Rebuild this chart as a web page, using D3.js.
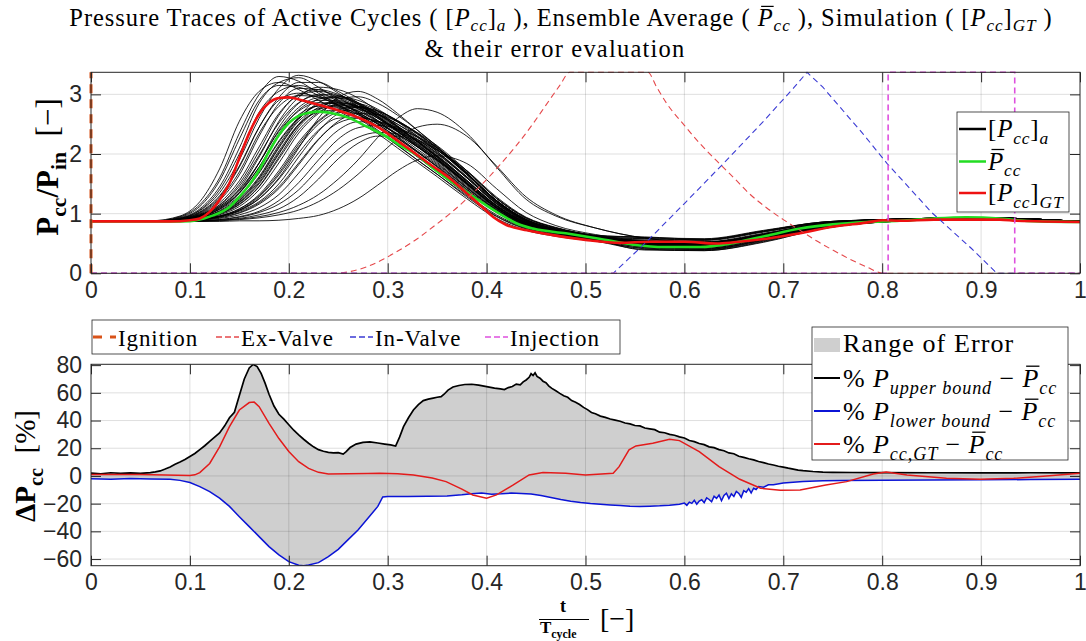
<!DOCTYPE html>
<html><head><meta charset="utf-8">
<script src="https://cdn.jsdelivr.net/npm/d3@7"></script>
<style>body{margin:0;background:#fff}svg{display:block}text{white-space:pre}</style>
</head><body>
<svg id="c" width="1086" height="641"></svg>
<script>
// ---------------- DATA ----------------
const XTICKS = [0,0.1,0.2,0.3,0.4,0.5,0.6,0.7,0.8,0.9,1];
const TOP_YTICKS = [0,1,2,3];
const BOT_YTICKS = [-60,-40,-20,0,20,40,60,80];
const TOP_YLIM = [0,3.37];
const BOT_YLIM = [-64.8,80.6];

// active cycles, sampled on a common t grid
const CYCLE_T = [0,0.06,0.09,0.11,0.13,0.15,0.17,0.19,0.21,0.23,0.25,0.27,0.29,0.31,0.33,0.35,0.38,0.41,0.44,0.47,0.51,0.56,0.62,0.68,0.74,0.80,0.90,1.00];
const CYCLES = [
[0.87,0.87,0.95,1.15,1.6,2.35,3.0,3.3,3.22,3.02,2.82,2.62,2.4,2.15,1.9,1.66,1.28,0.95,0.74,0.63,0.55,0.44,0.42,0.58,0.78,0.87,0.92,0.86],
[0.87,0.87,0.93,1.08,1.45,2.1,2.85,3.2,3.28,3.12,2.9,2.68,2.45,2.2,1.95,1.7,1.32,0.98,0.76,0.65,0.56,0.46,0.44,0.6,0.79,0.87,0.92,0.86],
[0.87,0.88,0.96,1.2,1.75,2.55,3.05,3.2,3.08,2.9,2.72,2.54,2.34,2.1,1.86,1.62,1.25,0.92,0.72,0.62,0.54,0.42,0.4,0.56,0.77,0.86,0.91,0.86],
[0.87,0.87,0.92,1.05,1.35,1.9,2.6,3.1,3.32,3.22,3.02,2.8,2.56,2.3,2.04,1.78,1.38,1.02,0.78,0.66,0.57,0.47,0.45,0.61,0.8,0.88,0.92,0.87],
[0.87,0.87,0.91,1.0,1.22,1.65,2.3,2.85,3.1,3.08,2.94,2.76,2.55,2.32,2.08,1.84,1.44,1.06,0.8,0.68,0.58,0.48,0.46,0.6,0.8,0.88,0.92,0.87],
[0.87,0.87,0.9,0.98,1.15,1.5,2.05,2.65,3.0,3.08,3.0,2.84,2.62,2.38,2.13,1.88,1.46,1.07,0.81,0.68,0.58,0.49,0.46,0.61,0.81,0.88,0.92,0.87],
[0.87,0.87,0.92,1.03,1.3,1.8,2.45,2.9,3.02,2.95,2.82,2.66,2.47,2.26,2.03,1.8,1.41,1.04,0.79,0.67,0.57,0.47,0.45,0.6,0.8,0.88,0.92,0.87],
[0.87,0.87,0.9,0.97,1.12,1.42,1.95,2.55,2.95,3.12,3.08,2.94,2.72,2.47,2.2,1.94,1.5,1.1,0.83,0.7,0.6,0.5,0.48,0.62,0.81,0.89,0.92,0.87],
[0.87,0.87,0.91,1.01,1.25,1.7,2.35,2.8,2.98,2.96,2.86,2.7,2.5,2.28,2.05,1.82,1.43,1.05,0.8,0.68,0.58,0.5,0.48,0.63,0.82,0.89,0.93,0.87],
[0.87,0.87,0.89,0.95,1.08,1.35,1.85,2.45,2.85,3.0,2.98,2.86,2.68,2.46,2.21,1.96,1.54,1.13,0.85,0.71,0.6,0.51,0.49,0.63,0.82,0.89,0.93,0.87],
[0.87,0.87,0.89,0.94,1.04,1.25,1.62,2.15,2.6,2.82,2.86,2.78,2.62,2.42,2.2,1.96,1.55,1.14,0.85,0.71,0.6,0.5,0.47,0.62,0.81,0.89,0.92,0.87],
[0.87,0.87,0.88,0.92,1.0,1.18,1.5,2.0,2.5,2.78,2.86,2.8,2.66,2.47,2.25,2.01,1.6,1.17,0.87,0.72,0.61,0.52,0.5,0.64,0.82,0.89,0.93,0.87],
[0.87,0.87,0.9,0.96,1.1,1.35,1.78,2.3,2.66,2.8,2.78,2.68,2.52,2.33,2.12,1.9,1.5,1.1,0.82,0.69,0.59,0.49,0.46,0.61,0.8,0.88,0.92,0.87],
[0.87,0.87,0.88,0.91,0.98,1.12,1.4,1.85,2.35,2.68,2.84,2.84,2.73,2.55,2.33,2.08,1.65,1.2,0.89,0.73,0.62,0.53,0.51,0.65,0.83,0.9,0.93,0.87],
[0.87,0.87,0.89,0.93,1.02,1.2,1.55,2.05,2.5,2.7,2.74,2.66,2.51,2.33,2.12,1.9,1.51,1.1,0.82,0.69,0.58,0.47,0.44,0.59,0.79,0.88,0.92,0.86],
[0.87,0.87,0.88,0.9,0.96,1.08,1.32,1.72,2.2,2.56,2.76,2.8,2.72,2.56,2.35,2.11,1.68,1.22,0.9,0.74,0.62,0.53,0.51,0.65,0.83,0.9,0.93,0.87],
[0.87,0.87,0.89,0.95,1.07,1.3,1.7,2.22,2.62,2.92,2.96,2.86,2.68,2.46,2.21,1.95,1.52,1.1,0.82,0.69,0.58,0.48,0.45,0.6,0.8,0.88,0.92,0.87],
[0.87,0.87,0.88,0.92,1.0,1.16,1.46,1.95,2.45,2.75,2.92,2.96,2.85,2.65,2.4,2.13,1.68,1.22,0.9,0.74,0.62,0.52,0.5,0.64,0.82,0.89,0.93,0.87],
[0.87,0.87,0.89,0.93,1.03,1.22,1.58,2.1,2.55,2.76,2.8,2.72,2.56,2.37,2.15,1.92,1.52,1.12,0.84,0.7,0.59,0.49,0.47,0.62,0.81,0.88,0.92,0.87],
[0.87,0.87,0.9,0.97,1.12,1.4,1.85,2.38,2.72,2.86,2.84,2.72,2.54,2.34,2.12,1.89,1.49,1.09,0.82,0.69,0.58,0.48,0.46,0.61,0.8,0.88,0.92,0.87],
[0.87,0.87,0.88,0.9,0.94,1.02,1.18,1.45,1.85,2.25,2.52,2.6,2.55,2.42,2.24,2.02,1.62,1.19,0.88,0.73,0.61,0.51,0.49,0.63,0.82,0.89,0.93,0.87],
[0.87,0.87,0.87,0.89,0.92,0.98,1.1,1.32,1.68,2.08,2.4,2.54,2.54,2.44,2.28,2.07,1.67,1.22,0.9,0.74,0.62,0.53,0.51,0.65,0.83,0.9,0.93,0.87],
[0.87,0.87,0.88,0.91,0.96,1.06,1.25,1.58,2.02,2.4,2.6,2.62,2.54,2.4,2.22,2.0,1.6,1.17,0.87,0.72,0.6,0.5,0.48,0.62,0.81,0.89,0.92,0.87],
[0.87,0.87,0.87,0.88,0.9,0.95,1.04,1.22,1.52,1.9,2.25,2.44,2.48,2.42,2.29,2.1,1.72,1.26,0.93,0.76,0.63,0.54,0.52,0.66,0.84,0.9,0.93,0.87],
[0.87,0.87,0.88,0.9,0.95,1.04,1.2,1.5,1.95,2.38,2.68,2.78,2.72,2.56,2.35,2.1,1.66,1.2,0.88,0.73,0.61,0.51,0.49,0.63,0.82,0.89,0.93,0.87],
[0.87,0.87,0.87,0.88,0.89,0.92,0.98,1.08,1.28,1.58,1.92,2.18,2.3,2.3,2.22,2.06,1.72,1.28,0.94,0.77,0.63,0.54,0.52,0.66,0.84,0.9,0.93,0.87],
[0.87,0.87,0.87,0.88,0.9,0.94,1.02,1.16,1.4,1.75,2.08,2.28,2.36,2.34,2.24,2.07,1.7,1.26,0.93,0.76,0.63,0.53,0.51,0.65,0.83,0.9,0.93,0.87],
[0.87,0.87,0.87,0.87,0.87,0.88,0.88,0.89,0.92,0.97,1.08,1.25,1.48,1.72,1.9,1.97,1.84,1.42,1.02,0.8,0.65,0.55,0.53,0.67,0.84,0.9,0.93,0.87],
[0.87,0.87,0.88,0.9,0.95,1.05,1.25,1.6,2.1,2.6,2.95,3.05,2.92,2.68,2.4,2.12,1.68,1.22,0.9,0.74,0.62,0.52,0.5,0.64,0.82,0.89,0.93,0.87],
[0.87,0.87,0.87,0.88,0.89,0.91,0.95,1.02,1.14,1.32,1.58,1.9,2.28,2.6,2.76,2.7,2.35,1.78,1.24,0.96,0.76,0.59,0.52,0.64,0.82,0.89,0.93,0.87],
[0.87,0.87,0.87,0.87,0.88,0.9,0.93,0.98,1.06,1.2,1.4,1.66,1.96,2.25,2.45,2.5,2.3,1.8,1.28,0.98,0.76,0.59,0.52,0.64,0.82,0.89,0.93,0.87],
[0.87,0.87,0.94,1.12,1.55,2.25,2.9,3.15,3.12,2.98,2.8,2.6,2.38,2.14,1.9,1.66,1.3,0.96,0.75,0.64,0.54,0.4,0.39,0.54,0.76,0.86,0.91,0.86],
[0.87,0.87,0.92,1.06,1.4,2.0,2.7,3.05,3.15,3.05,2.88,2.7,2.5,2.27,2.03,1.79,1.4,1.03,0.79,0.67,0.57,0.45,0.42,0.57,0.78,0.87,0.92,0.86],
[0.87,0.87,0.91,1.02,1.28,1.78,2.45,2.95,3.2,3.2,3.05,2.86,2.63,2.38,2.12,1.86,1.44,1.06,0.8,0.68,0.58,0.56,0.55,0.69,0.85,0.9,0.93,0.87],
[0.87,0.87,0.9,0.99,1.18,1.55,2.12,2.68,2.98,3.05,2.98,2.83,2.63,2.41,2.17,1.92,1.5,1.1,0.83,0.7,0.61,0.58,0.57,0.71,0.86,0.9,0.93,0.87],
[0.87,0.87,0.89,0.96,1.1,1.38,1.85,2.4,2.78,2.94,2.94,2.84,2.66,2.45,2.22,1.98,1.56,1.14,0.86,0.72,0.62,0.6,0.58,0.72,0.86,0.9,0.93,0.87],
[0.87,0.87,0.9,0.98,1.14,1.46,1.98,2.52,2.86,2.98,2.94,2.8,2.6,2.38,2.14,1.9,1.48,1.08,0.81,0.68,0.56,0.41,0.38,0.53,0.75,0.86,0.91,0.86],
[0.87,0.87,0.88,0.93,1.03,1.23,1.6,2.12,2.58,2.86,2.96,2.9,2.75,2.54,2.3,2.04,1.6,1.16,0.86,0.72,0.6,0.43,0.4,0.55,0.76,0.86,0.91,0.86],
[0.87,0.87,0.89,0.94,1.05,1.28,1.68,2.2,2.6,2.82,2.88,2.8,2.64,2.44,2.21,1.97,1.56,1.13,0.85,0.71,0.62,0.58,0.56,0.7,0.85,0.9,0.93,0.87],
[0.87,0.87,0.88,0.91,0.99,1.15,1.45,1.92,2.4,2.7,2.82,2.8,2.68,2.5,2.28,2.04,1.62,1.18,0.88,0.73,0.63,0.61,0.57,0.71,0.86,0.9,0.93,0.87],
[0.87,0.87,0.88,0.9,0.95,1.06,1.28,1.65,2.12,2.5,2.7,2.74,2.66,2.5,2.3,2.07,1.66,1.21,0.89,0.74,0.62,0.44,0.41,0.56,0.77,0.87,0.92,0.86],
[0.87,0.87,0.88,0.92,1.01,1.19,1.52,2.02,2.48,2.74,2.82,2.76,2.6,2.4,2.18,1.95,1.54,1.12,0.84,0.7,0.57,0.39,0.38,0.52,0.75,0.86,0.91,0.86],
[0.87,0.87,0.87,0.89,0.93,1.01,1.16,1.42,1.82,2.24,2.55,2.68,2.66,2.54,2.36,2.14,1.72,1.25,0.92,0.76,0.64,0.6,0.56,0.7,0.85,0.9,0.93,0.87],
[0.87,0.87,0.89,0.95,1.08,1.34,1.78,2.34,2.74,2.9,2.9,2.78,2.6,2.39,2.16,1.92,1.51,1.1,0.83,0.7,0.59,0.52,0.5,0.64,0.82,0.89,0.93,0.87],
[0.87,0.87,0.88,0.9,0.96,1.08,1.3,1.68,2.16,2.54,2.74,2.78,2.7,2.54,2.34,2.1,1.68,1.22,0.9,0.74,0.61,0.47,0.44,0.59,0.79,0.88,0.92,0.86]
];

// ensemble average
const PBAR_T = [0,0.05,0.08,0.1,0.12,0.14,0.15,0.16,0.17,0.18,0.19,0.2,0.21,0.22,0.23,0.245,0.26,0.28,0.3,0.312,0.33,0.346,0.38,0.413,0.43,0.447,0.48,0.514,0.548,0.58,0.616,0.65,0.683,0.717,0.75,0.784,0.818,0.852,0.885,0.919,0.936,0.96,1.0];
const PBAR   = [0.87,0.87,0.87,0.875,0.95,1.11,1.28,1.48,1.73,2.04,2.32,2.52,2.64,2.69,2.71,2.68,2.61,2.45,2.28,2.15,1.98,1.76,1.36,1.0,0.84,0.75,0.67,0.58,0.48,0.44,0.44,0.51,0.63,0.75,0.82,0.86,0.88,0.92,0.94,0.92,0.89,0.87,0.86];
// simulation
const PGT_T = [0,0.08,0.1,0.11,0.12,0.13,0.14,0.15,0.16,0.17,0.18,0.19,0.2,0.211,0.231,0.25,0.272,0.29,0.312,0.346,0.363,0.38,0.397,0.407,0.42,0.441,0.467,0.5,0.535,0.565,0.6,0.633,0.65,0.683,0.717,0.75,0.784,0.801,0.818,0.852,0.919,0.936,1.0];
const PGT   = [0.87,0.87,0.89,0.92,1.03,1.23,1.51,1.93,2.35,2.67,2.86,2.94,2.95,2.91,2.82,2.73,2.6,2.45,2.2,1.79,1.59,1.34,1.09,0.94,0.81,0.72,0.64,0.56,0.51,0.53,0.53,0.5,0.52,0.58,0.67,0.78,0.85,0.89,0.88,0.9,0.9,0.88,0.86];

// event signals (normalised)
const IGN_T = [0,0];            const IGN = [0,3.37];
const EXV_T = [0,0.245,0.262,0.279,0.296,0.312,0.33,0.346,0.363,0.38,0.397,0.413,0.43,0.447,0.46,0.474,0.484,0.563,0.572,0.582,0.6,0.616,0.633,0.65,0.666,0.683,0.7,0.717,0.734,0.75,0.767,0.784,0.801,1];
const EXV   = [0,0,0.03,0.11,0.24,0.39,0.58,0.78,1.0,1.25,1.52,1.81,2.14,2.51,2.82,3.15,3.37,3.37,3.12,2.85,2.48,2.17,1.88,1.6,1.33,1.1,0.9,0.72,0.54,0.39,0.24,0.11,0,0];
const INV_T = [0,0.528,0.56,0.6,0.64,0.68,0.71,0.724,0.74,0.78,0.805,0.85,0.89,0.916,1];
const INV   = [0,0,0.5,1.17,1.85,2.55,3.1,3.37,3.12,2.35,1.84,1.02,0.42,0,0];
const INJ_T = [0,0.806,0.806,0.934,0.934,1];
const INJ   = [0,0,3.37,3.37,0,0];

// error evaluation [%]
const UP_T = [0,0.01,0.02,0.03,0.04,0.05,0.06,0.065,0.07,0.075,0.08,0.085,0.09,0.095,0.1,0.105,0.11,0.115,0.12,0.125,0.13,0.135,0.14,0.145,0.15,0.155,0.16,0.164,0.168,0.172,0.176,0.18,0.185,0.19,0.195,0.2,0.205,0.21,0.215,0.22,0.225,0.23,0.235,0.24,0.245,0.25,0.255,0.258,0.262,0.268,0.275,0.282,0.29,0.297,0.303,0.308,0.312,0.316,0.321,0.326,0.331,0.336,0.341,0.346,0.35,0.354,0.357,0.361,0.366,0.372,0.378,0.385,0.392,0.4,0.408,0.414,0.418,0.422,0.426,0.43,0.434,0.437,0.44,0.443,0.445,0.447,0.449,0.451,0.454,0.457,0.46,0.463,0.466,0.47,0.474,0.478,0.482,0.486,0.49,0.494,0.498,0.502,0.506,0.51,0.515,0.52,0.525,0.53,0.535,0.54,0.545,0.55,0.555,0.56,0.565,0.57,0.575,0.58,0.585,0.59,0.595,0.6,0.605,0.61,0.615,0.62,0.625,0.63,0.635,0.64,0.645,0.65,0.655,0.66,0.665,0.67,0.675,0.68,0.685,0.69,0.695,0.7,0.705,0.71,0.715,0.72,0.73,0.74,0.75,0.77,0.8,0.85,0.9,0.95,1];
const UP   = [2.0,1.6,2.3,1.8,2.2,1.9,2.4,2.9,3.6,5.0,6.5,8.4,10,11.8,14,16.2,19,21.8,25,28,31,36,42,46,58,70,78,80.5,79,74,67,59,50.5,44.5,41,37,33,29.6,26.5,23.6,21,19,17.8,17,16.6,16.8,15.8,17.5,20.5,23,24.2,24.6,23.8,23.0,22.4,21.6,28,35.6,42,47.6,51.5,54.4,55.5,56.2,56.8,57.2,59,62,64.2,65.3,66,66.2,65.6,64.5,63.4,62.8,62.4,63.8,64.6,66.3,65.8,67.9,69.3,71.2,73.8,72.5,74.5,71.8,70.6,68.4,67.3,64.9,63.2,61.5,59.6,57.9,56.8,54.4,53.2,51.6,49.5,47.9,45.8,44.9,43.2,42.3,41.1,40.3,39.5,38.2,37.6,36.4,36.1,34.6,34.0,33.4,31.6,31.2,30.0,29.4,28.2,27.4,25.6,24.8,23.4,22.6,21.0,20.4,19.0,18.2,16.6,16.0,14.2,13.4,12.4,11.6,10.4,9.6,8.6,7.9,7.0,6.4,5.6,4.9,4.2,3.8,3.2,2.8,2.6,2.5,2.4,2.3,2.2,2.3,2.2];
const LO_T = [0,0.02,0.04,0.06,0.08,0.09,0.1,0.11,0.12,0.13,0.14,0.15,0.16,0.17,0.18,0.19,0.2,0.21,0.215,0.22,0.23,0.24,0.25,0.26,0.27,0.28,0.29,0.295,0.3,0.32,0.34,0.36,0.375,0.385,0.395,0.405,0.415,0.425,0.435,0.445,0.455,0.465,0.475,0.485,0.495,0.505,0.515,0.525,0.535,0.545,0.555,0.565,0.575,0.585,0.595,0.6,0.6025,0.605,0.6075,0.61,0.6125,0.615,0.6175,0.62,0.6225,0.625,0.6275,0.63,0.6325,0.635,0.6375,0.64,0.6425,0.645,0.6475,0.65,0.6525,0.655,0.6575,0.66,0.6625,0.665,0.6675,0.67,0.6725,0.675,0.68,0.685,0.69,0.7,0.71,0.72,0.74,0.76,0.8,0.85,0.9,0.95,1];
const LO   = [-2.0,-2.3,-1.9,-2.2,-2.4,-3.2,-4.8,-7.7,-11.3,-16,-22,-29.4,-36.6,-43.8,-51,-57,-61.9,-64.5,-64.8,-64.3,-62.6,-58.2,-53,-46,-39,-30.5,-22,-15.2,-14.8,-14.9,-14.6,-14.4,-13.6,-12.8,-12.4,-13.2,-12.9,-12.4,-12.6,-13.0,-14.2,-15.6,-17.0,-18.2,-19.2,-19.9,-20.4,-20.9,-21.4,-21.9,-22.1,-21.8,-21.6,-21.1,-20.4,-19.6,-21.2,-18.9,-19.8,-17.6,-20.4,-18.1,-17.2,-19.3,-15.8,-17.0,-18.6,-14.6,-16.2,-13.8,-17.9,-14.0,-12.4,-16.3,-12.9,-14.8,-11.2,-12.6,-15.4,-10.6,-11.8,-9.2,-12.3,-8.9,-9.8,-7.7,-8.1,-6.4,-6.3,-5.1,-4.6,-4.0,-3.5,-3.3,-3.1,-2.9,-2.8,-2.6,-2.4];
const GTE_T = [0,0.05,0.1,0.105,0.11,0.12,0.13,0.14,0.15,0.16,0.165,0.17,0.18,0.19,0.2,0.21,0.22,0.23,0.24,0.26,0.28,0.292,0.31,0.326,0.345,0.359,0.375,0.386,0.4,0.41,0.427,0.443,0.457,0.48,0.5,0.528,0.534,0.544,0.551,0.568,0.585,0.595,0.615,0.635,0.656,0.677,0.697,0.717,0.743,0.764,0.791,0.804,0.825,0.865,0.899,0.933,0.966,1];
const GTE   = [1,1,0.3,0.8,2.4,9,21,35.6,47.6,53,53.3,50,38,27,17.6,10.3,5.5,2.6,1.4,1.5,1.8,1.9,1.5,0.7,-1.5,-4.1,-9.5,-13.7,-16.1,-13.7,-6.5,0.7,2.4,1.9,0.7,1.9,6.7,18.8,21.7,23.6,26.5,25.5,17.6,6.7,-2.4,-8.9,-10.3,-10.1,-6.5,-4.1,1.4,2.9,0.7,-1.7,-2.4,-1.7,0,1.9];

// ---------------- DRAWING ----------------
const svg = d3.select('#c');
const SERIF = "'Liberation Serif','Times New Roman',serif";
const SANS = "'Liberation Sans',Arial,Helvetica,sans-serif";
const AX = '#262626';
const L = 91, R = 1080;
const T1 = 72.3, B1 = 273.3, T2 = 364.3, B2 = 565.7;
const x = d3.scaleLinear().domain([0,1]).range([L,R]);
const yT = d3.scaleLinear().domain(TOP_YLIM).range([B1,T1]);
const yB = d3.scaleLinear().domain(BOT_YLIM).range([B2,T2]);
const zip = (a,b) => a.map((v,i)=>[v,b[i]]);

function rich(parent, px, py, parts, o) {
  const size = o.size, subK = o.subK || 0.27;
  const t = parent.append('text').attr('x',px).attr('y',py)
    .attr('font-family', o.family || SERIF).attr('font-size', size)
    .attr('letter-spacing', o.ls || 0).attr('text-anchor', o.anchor || 'start')
    .attr('fill', o.fill || '#000');
  if (o.weight) t.attr('font-weight', o.weight);
  let cur = 0, idx = 0; const overs = [];
  parts.forEach(p => {
    const txt = p[0], st = p[1] || '';
    const sub = st.includes('_'), sup = st.includes('^');
    const s = (sub||sup) ? size*0.7 : size;
    const off = sub ? size*subK : sup ? -size*0.38 : 0;
    const ts = t.append('tspan').text(txt);
    if (off !== cur) ts.attr('dy', off - cur);
    cur = off;
    if (sub||sup) ts.attr('font-size', s);
    if (st.includes('i')) ts.attr('font-style','italic');
    if (st.includes('b')) ts.attr('font-weight','bold');
    if (st.includes('o')) overs.push({i:idx, n:txt.length, base:py+off, s});
    idx += txt.length;
  });
  overs.forEach(ov => {
    const a = t.node().getExtentOfChar(ov.i), b = t.node().getExtentOfChar(ov.i+ov.n-1);
    const yy = ov.base - ov.s*0.80;
    parent.append('line').attr('x1', a.x + ov.s*0.14).attr('x2', b.x + b.width - (o.ls||0) + ov.s*0.04)
      .attr('y1', yy).attr('y2', yy).attr('stroke', o.fill || '#000').attr('stroke-width', Math.max(1.1, ov.s*0.05));
  });
  return t;
}

// ---- title
rich(svg, 561, 26, [
  ['Pressure Traces of Active Cycles ( ['],['P','i'],['cc','i_'],[']'],['a','i_'],[' ), Ensemble Average ( '],
  ['P','io'],['cc','i_'],[' ), Simulation ( ['],['P','i'],['cc','i_'],[']'],['GT','i_'],[' )']
], {size:24.5, anchor:'middle', ls:0.95, subK:0.22});
rich(svg, 555, 57, [['& their error evaluation']], {size:24.5, anchor:'middle', ls:1.2});

// clip paths
const defs = svg.append('defs');
defs.append('clipPath').attr('id','cp1').append('rect').attr('x',L-2).attr('y',T1-2).attr('width',R-L+4).attr('height',B1-T1+4);
defs.append('clipPath').attr('id','cp2').append('rect').attr('x',L).attr('y',T2).attr('width',R-L).attr('height',B2-T2);

function grid(y, yticks, top, bot) {
  const g = svg.append('g').attr('stroke', AX).attr('stroke-opacity', 0.15).attr('stroke-width', 1);
  g.selectAll('.gx').data(XTICKS.filter(v=>v>0&&v<1)).join('line')
    .attr('x1',d=>x(d)).attr('x2',d=>x(d)).attr('y1',top).attr('y2',bot);
  g.selectAll('.gy').data(yticks.filter(v=>y(v)>top+1&&y(v)<bot-1)).join('line')
    .attr('x1',L).attr('x2',R).attr('y1',d=>y(d)).attr('y2',d=>y(d));
}
const fmtX = d => d===0 ? '0' : d===1 ? '1' : d3.format('.1f')(d);
const fmtY = d3.format('d');
function axes(y, yticks, top, bot) {
  const g = svg.append('g');
  const style = s => { s.select('.domain').remove(); s.selectAll('line').attr('stroke',AX).attr('stroke-width',1);
    s.selectAll('text').attr('font-family',SANS).attr('font-size',23).attr('fill',AX); };
  g.append('g').attr('transform',`translate(0,${bot})`)
    .call(d3.axisBottom(x).tickValues(XTICKS).tickSizeInner(-10).tickSizeOuter(0).tickPadding(8).tickFormat(fmtX)).call(style);
  g.append('g').attr('transform',`translate(0,${top})`)
    .call(d3.axisTop(x).tickValues(XTICKS).tickSizeInner(-10).tickSizeOuter(0).tickFormat('')).call(style);
  g.append('g').attr('transform',`translate(${L},0)`)
    .call(d3.axisLeft(y).tickValues(yticks).tickSizeInner(-10).tickSizeOuter(0).tickPadding(9).tickFormat(fmtY)).call(style);
  g.append('g').attr('transform',`translate(${R},0)`)
    .call(d3.axisRight(y).tickValues(yticks).tickSizeInner(-10).tickSizeOuter(0).tickFormat('')).call(style);
  g.append('rect').attr('x',L).attr('y',top).attr('width',R-L).attr('height',bot-top)
    .attr('fill','none').attr('stroke',AX).attr('stroke-width',1);
}

// ---- top panel
grid(yT, TOP_YTICKS, T1, B1);
const p1 = svg.append('g').attr('clip-path','url(#cp1)');
const lineT = d3.line().x(d=>x(d[0])).y(d=>yT(d[1]));
const lineTs = d3.line().x(d=>x(d[0])).y(d=>yT(d[1])).curve(d3.curveMonotoneX);
p1.append('g').selectAll('path').data(CYCLES).join('path')
  .attr('d', c => lineTs(zip(CYCLE_T, c))).attr('fill','none').attr('stroke','#000').attr('stroke-width',0.85);
p1.append('path').attr('d', lineTs(zip(PBAR_T,PBAR))).attr('fill','none').attr('stroke','#22dd22').attr('stroke-width',2.6);
p1.append('path').attr('d', lineTs(zip(PGT_T,PGT))).attr('fill','none').attr('stroke','#ee1111').attr('stroke-width',2.6);
p1.append('path').attr('d', lineTs(zip(EXV_T,EXV))).attr('fill','none').attr('stroke','#e5484b').attr('stroke-width',1.1).attr('stroke-dasharray','6,4');
p1.append('path').attr('d', lineT(zip(INV_T,INV))).attr('fill','none').attr('stroke','#3b3bd4').attr('stroke-width',1.1).attr('stroke-dasharray','6,4');
p1.append('path').attr('d', lineT(zip(INJ_T,INJ))).attr('fill','none').attr('stroke','#de50de').attr('stroke-width',1.6).attr('stroke-dasharray','6,4');
p1.append('path').attr('d', lineT(zip(IGN_T,IGN))).attr('fill','none').attr('stroke','#d95319').attr('stroke-width',3).attr('stroke-dasharray','9,6');
axes(yT, TOP_YTICKS, T1, B1);

// ---- bottom panel
const p2 = svg.append('g').attr('clip-path','url(#cp2)');
const lineB = d3.line().x(d=>x(d[0])).y(d=>yB(d[1]));
const upPts = zip(UP_T, UP), loPts = zip(LO_T, LO);
p2.append('path').attr('d', lineB(upPts.concat(loPts.slice().reverse())) + 'Z').attr('fill','#cfcfcf').attr('stroke','none');
grid(yB, BOT_YTICKS, T2, B2);
const p3 = svg.append('g').attr('clip-path','url(#cp2)');
p3.append('path').attr('d', lineB(upPts)).attr('fill','none').attr('stroke','#000').attr('stroke-width',1.7);
p3.append('path').attr('d', lineB(loPts)).attr('fill','none').attr('stroke','#0b14d6').attr('stroke-width',1.5);
p3.append('path').attr('d', lineB(zip(GTE_T,GTE))).attr('fill','none').attr('stroke','#e31b1b').attr('stroke-width',1.5);
axes(yB, BOT_YTICKS, T2, B2);

// ---- axis labels
const gy1 = svg.append('g').attr('transform','translate(58,167) rotate(-90)');
rich(gy1, 0, 0, [['P','b'],['cc','b_'],['/','b'],['P','b'],['in','b_'],['  [−]']], {size:31, anchor:'middle'});
const gy2 = svg.append('g').attr('transform','translate(35,466) rotate(-90)');
rich(gy2, 0, 0, [['ΔP','b'],['cc','b_'],['  [%]']], {size:29, anchor:'middle'});
// x label fraction
rich(svg, 563, 612, [['t','b']], {size:18, anchor:'middle'});
svg.append('line').attr('x1',539).attr('x2',589).attr('y1',619.5).attr('y2',619.5).attr('stroke','#000').attr('stroke-width',1);
rich(svg, 540, 633, [['T','b'],['cycle','b_']], {size:17});
rich(svg, 600, 628, [['[−]']], {size:28});

// ---- legend: top panel
const lg1 = svg.append('g');
lg1.append('rect').attr('x',957).attr('y',112).attr('width',112).attr('height',100).attr('fill','#fff').attr('stroke',AX).attr('stroke-width',0.8);
const lg1Items = [
  {c:'#000', w:2.5, y:129, parts:[['['],['P','i'],['cc','i_'],[']'],['a','i_']]},
  {c:'#22dd22', w:2.5, y:161.5, parts:[['P','io'],['cc','i_']]},
  {c:'#ee1111', w:2.5, y:193, parts:[['['],['P','i'],['cc','i_'],[']'],['GT','i_']]}
];
lg1Items.forEach(it => {
  lg1.append('line').attr('x1',959).attr('x2',986).attr('y1',it.y).attr('y2',it.y).attr('stroke',it.c).attr('stroke-width',it.w);
  rich(lg1, 988, it.y+8, it.parts, {size:25, ls:0.8});
});

// ---- legend: events
const lg2 = svg.append('g');
lg2.append('rect').attr('x',92).attr('y',320).attr('width',528).attr('height',34).attr('fill','#fff').attr('stroke',AX).attr('stroke-width',0.8);
const lg2Items = [
  {x:93, c:'#d95319', w:3, dash:'9,8', txt:'Ignition'},
  {x:216, c:'#e5484b', w:1.5, dash:'6,3', txt:'Ex-Valve'},
  {x:350, c:'#3b3bd4', w:1.5, dash:'6,3', txt:'In-Valve'},
  {x:485, c:'#de50de', w:1.5, dash:'6,3', txt:'Injection'}
];
lg2Items.forEach(it => {
  lg2.append('line').attr('x1',it.x).attr('x2',it.x+23).attr('y1',337).attr('y2',337).attr('stroke',it.c).attr('stroke-width',it.w).attr('stroke-dasharray',it.dash);
  rich(lg2, it.x+25, 345.5, [[it.txt]], {size:23, ls:0.9});
});

// ---- legend: errors
const lg3 = svg.append('g');
lg3.append('rect').attr('x',812).attr('y',327).attr('width',256).attr('height',133).attr('fill','#fff').attr('stroke',AX).attr('stroke-width',0.8);
lg3.append('rect').attr('x',814).attr('y',338).attr('width',26).attr('height',14).attr('fill','#cfcfcf');
rich(lg3, 843, 352, [['Range of Error']], {size:26, ls:1.1});
const lg3Items = [
  {c:'#000', y:378, sub:'upper bound'},
  {c:'#0b14d6', y:411, sub:'lower bound'},
  {c:'#e31b1b', y:444, sub:'cc,GT'}
];
lg3Items.forEach(it => {
  lg3.append('line').attr('x1',814).attr('x2',840).attr('y1',it.y).attr('y2',it.y).attr('stroke',it.c).attr('stroke-width',2);
  rich(lg3, 843, it.y+9, [['% '],['P','i'],[it.sub,'i_'],[' − '],['P','io'],['cc','i_']], {size:26, ls:0.9});
});
</script>
</body></html>
